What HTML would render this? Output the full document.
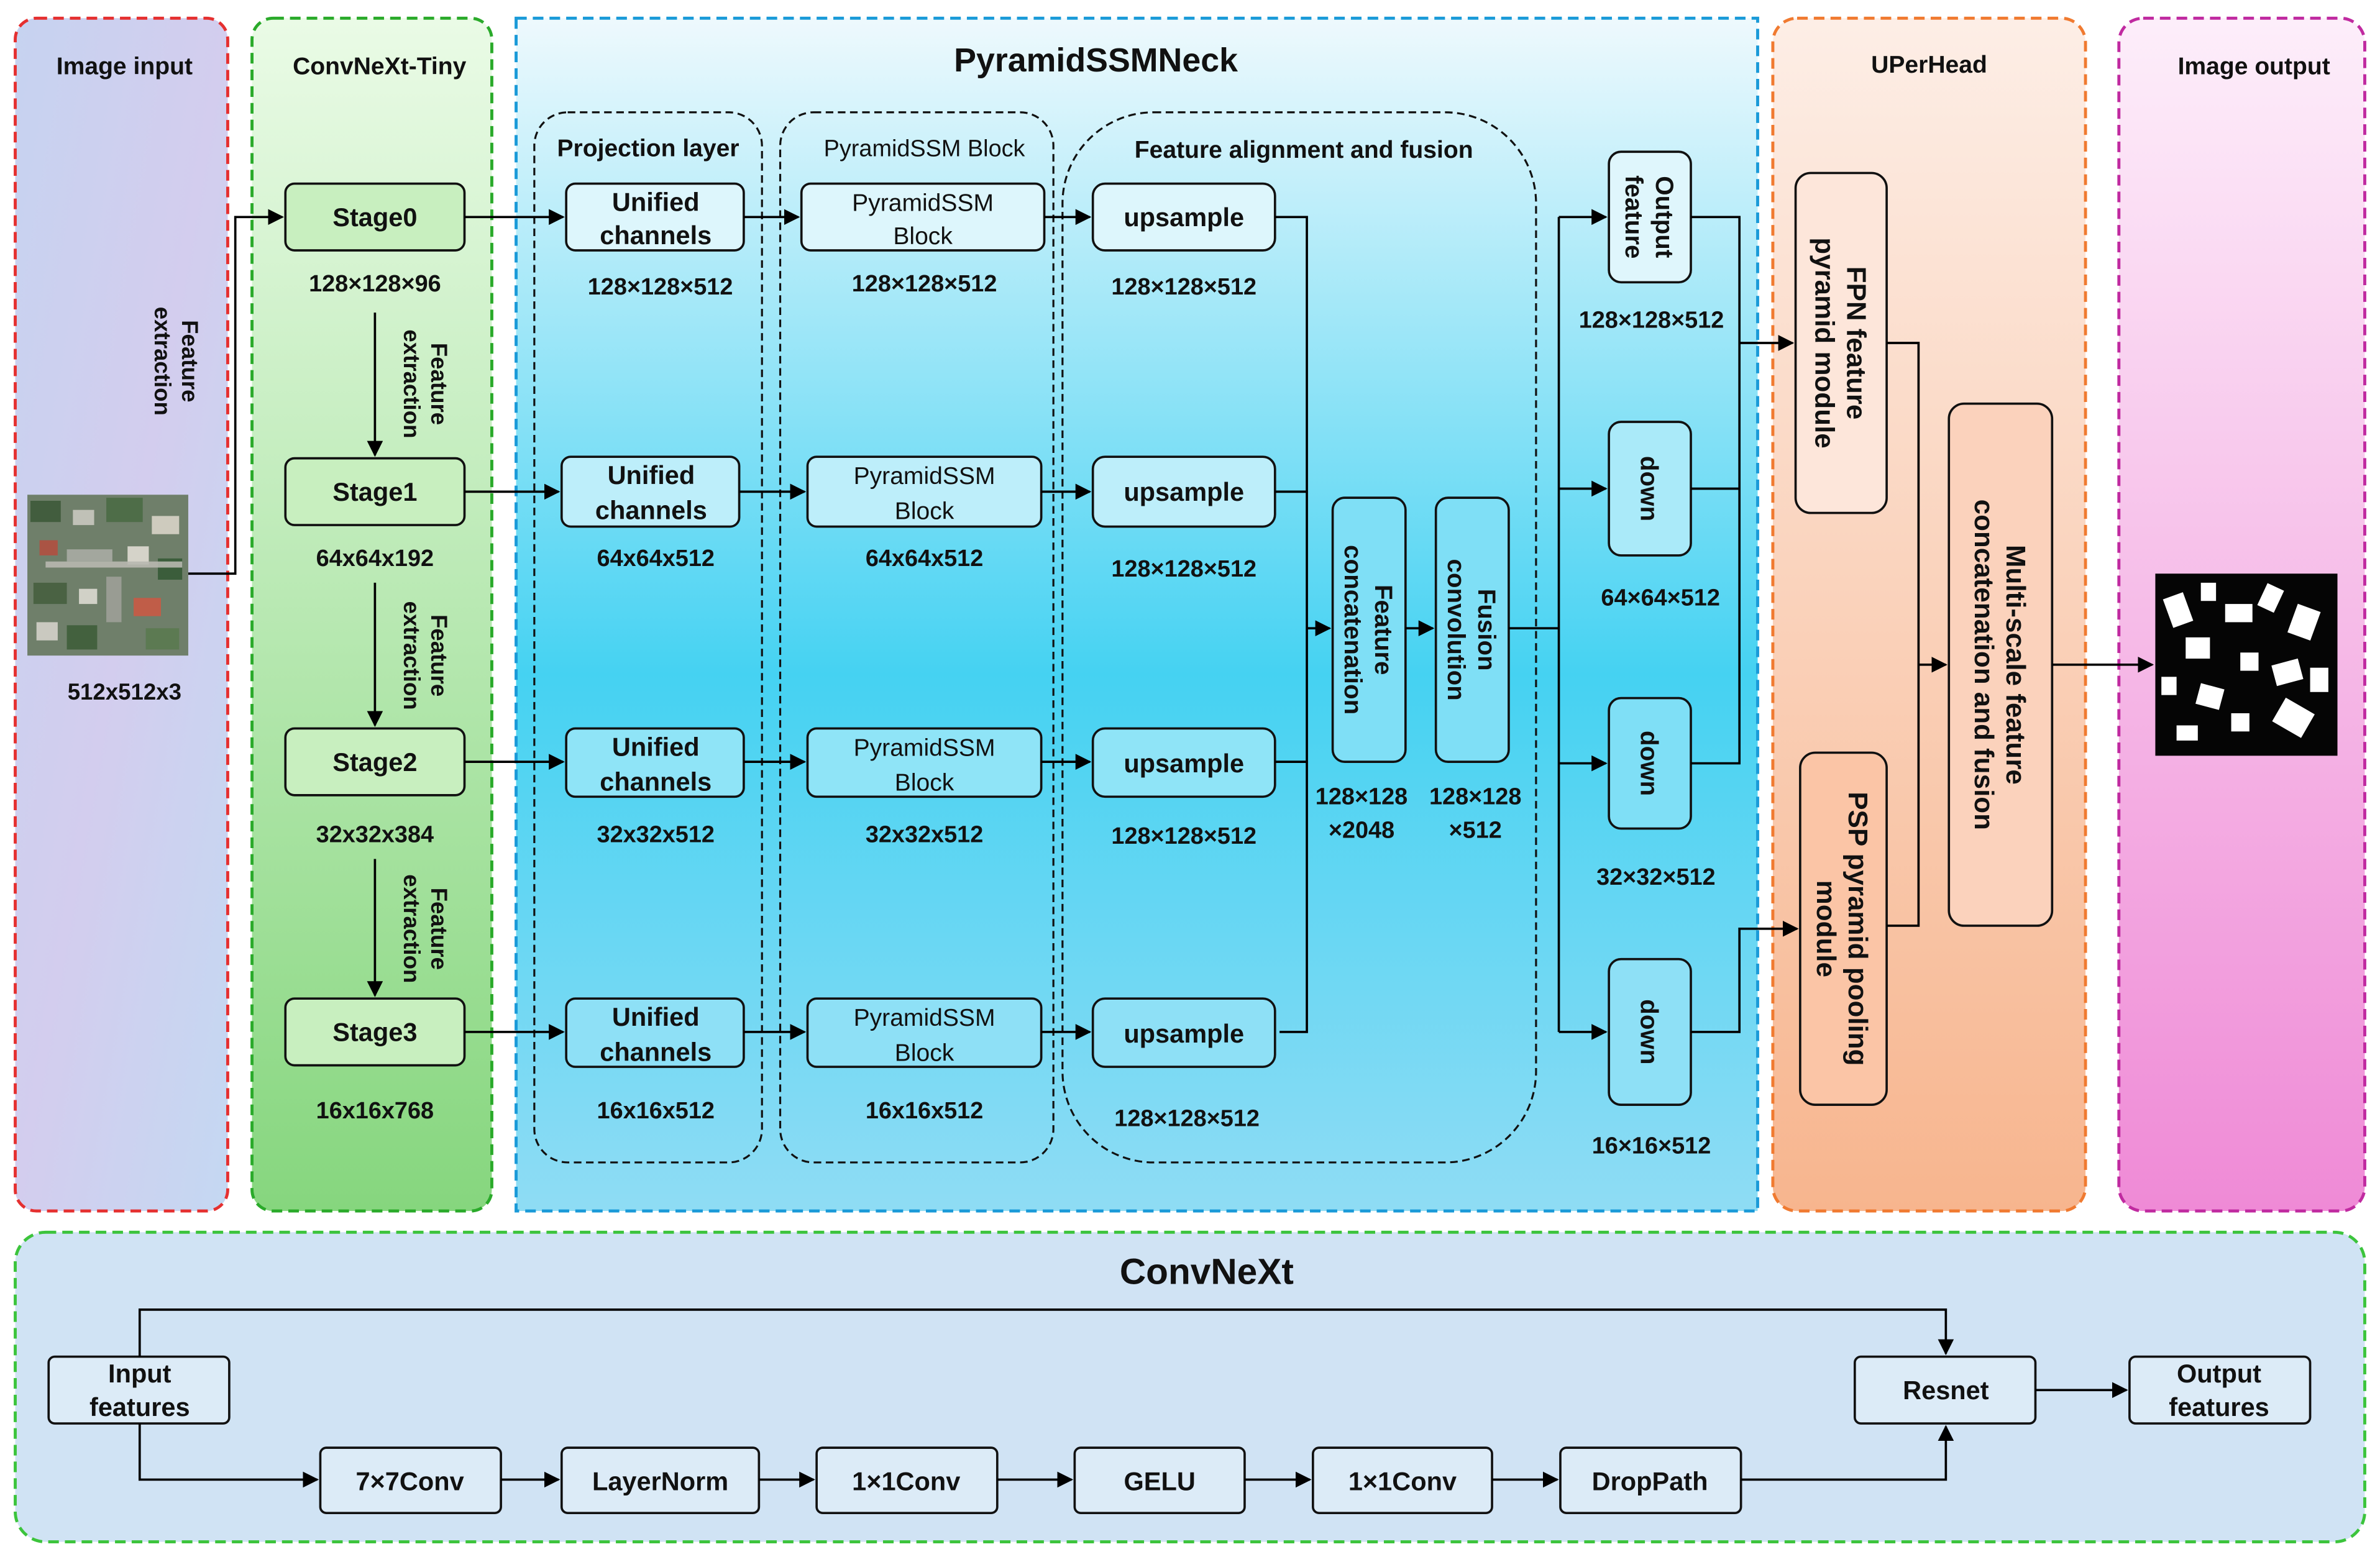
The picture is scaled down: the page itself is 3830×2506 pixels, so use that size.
<!DOCTYPE html>
<html><head><meta charset="utf-8"><style>
html,body{margin:0;padding:0;background:#fff}
svg{display:block}
text{font-family:"Liberation Sans",Arial,sans-serif;font-weight:bold;fill:#111}
</style></head><body>
<svg width="3830" height="2506" viewBox="0 0 1568 1026" xmlns="http://www.w3.org/2000/svg">
<defs>
<marker id="a" viewBox="0 0 10 10" refX="9" refY="5" markerWidth="7" markerHeight="7" orient="auto-start-reverse"><path d="M0,0 L10,5 L0,10 z" fill="#000"/></marker>
<linearGradient id="gG" x1="0" y1="0" x2="0" y2="1"><stop offset="0" stop-color="#eafbe6"/><stop offset="1" stop-color="#86d67e"/></linearGradient>
<linearGradient id="gB" x1="0" y1="0" x2="0" y2="1"><stop offset="0" stop-color="#eef9fd"/><stop offset="0.55" stop-color="#45d2f2"/><stop offset="1" stop-color="#8fdcf4"/></linearGradient>
<linearGradient id="gO" x1="0" y1="0" x2="0" y2="1"><stop offset="0" stop-color="#fdeee6"/><stop offset="1" stop-color="#f7b58e"/></linearGradient>
<linearGradient id="gP" x1="0" y1="0" x2="0" y2="1"><stop offset="0" stop-color="#fdeefa"/><stop offset="1" stop-color="#ef8ad6"/></linearGradient>
<linearGradient id="gI" x1="0" y1="0" x2="1" y2="1"><stop offset="0" stop-color="#c6d3f0"/><stop offset="0.5" stop-color="#d3cdee"/><stop offset="1" stop-color="#c4d8f2"/></linearGradient>
</defs>

<!-- panels -->
<rect x="10" y="12" width="140" height="786" rx="14" fill="url(#gI)" stroke="#e53030" stroke-width="2" stroke-dasharray="7,4"/>
<rect x="166" y="12" width="158" height="786" rx="14" fill="url(#gG)" stroke="#2aaa2a" stroke-width="2" stroke-dasharray="7,4"/>
<rect x="340" y="12" width="818" height="786" fill="url(#gB)" stroke="#1a9ad8" stroke-width="2" stroke-dasharray="7,4"/>
<rect x="1168" y="12" width="206" height="786" rx="16" fill="url(#gO)" stroke="#f07a30" stroke-width="2" stroke-dasharray="7,4"/>
<rect x="1396" y="12" width="162" height="786" rx="16" fill="url(#gP)" stroke="#c02aa0" stroke-width="2" stroke-dasharray="7,4"/>
<rect x="10" y="812" width="1548" height="204" rx="20" fill="#d0e3f4" stroke="#3cc43c" stroke-width="2" stroke-dasharray="7,4"/>

<text x="82" y="49" font-size="16" text-anchor="middle">Image input</text>
<text x="250" y="49" font-size="16" text-anchor="middle">ConvNeXt-Tiny</text>
<text x="722" y="47" font-size="22" text-anchor="middle">PyramidSSMNeck</text>
<text x="1271" y="48" font-size="16" text-anchor="middle">UPerHead</text>
<text x="1485" y="49" font-size="16" text-anchor="middle">Image output</text>
<text x="795" y="846" font-size="24" text-anchor="middle">ConvNeXt</text>

<!-- dashed groups -->
<g fill="none" stroke="#111" stroke-width="1.3" stroke-dasharray="5,3">
<rect x="352" y="74" width="150" height="692" rx="22"/>
<rect x="514" y="74" width="180" height="692" rx="22"/>
<rect x="700" y="74" width="312" height="692" rx="60"/>
</g>
<text x="427" y="103" font-size="16" text-anchor="middle">Projection layer</text>
<text x="609" y="103" font-size="15.5" text-anchor="middle" font-weight="normal" style="font-weight:normal">PyramidSSM Block</text>
<text x="859" y="104" font-size="16" text-anchor="middle">Feature alignment and fusion</text>

<!-- input image -->
<rect x="18" y="326" width="106" height="106" fill="#6f7f6a"/>
<g fill-opacity="0.9">
<rect x="20" y="330" width="20" height="14" fill="#3d5a3a"/><rect x="48" y="336" width="14" height="10" fill="#c9c9c0"/>
<rect x="70" y="328" width="24" height="16" fill="#4a6b45"/><rect x="100" y="340" width="18" height="12" fill="#d8d4c8"/>
<rect x="26" y="356" width="12" height="10" fill="#b05040"/><rect x="44" y="362" width="30" height="8" fill="#a9aca4"/>
<rect x="84" y="360" width="14" height="12" fill="#e0ddd4"/><rect x="104" y="368" width="16" height="14" fill="#355a36"/>
<rect x="22" y="384" width="22" height="14" fill="#465f3f"/><rect x="52" y="388" width="12" height="10" fill="#dcdad2"/>
<rect x="70" y="380" width="10" height="30" fill="#9da098"/><rect x="88" y="394" width="18" height="12" fill="#c95a45"/>
<rect x="24" y="410" width="14" height="12" fill="#d4d2ca"/><rect x="44" y="412" width="20" height="16" fill="#3e5e3a"/>
<rect x="96" y="414" width="22" height="14" fill="#5a7a50"/><rect x="30" y="370" width="90" height="4" fill="#b8b8b0"/>
</g>
<text x="82" y="461" font-size="15" text-anchor="middle">512x512x3</text>
<text transform="translate(120,238) rotate(90)" font-size="15" text-anchor="middle"><tspan x="0" y="0">Feature</tspan><tspan x="0" y="18">extraction</tspan></text>
<polyline points="124,378 155,378 155,143 186,143" fill="none" stroke="#000" stroke-width="1.5" marker-end="url(#a)"/>

<!-- output image -->
<rect x="1420" y="378" width="120" height="120" fill="#050505"/>
<g fill="#fff">
<rect x="1428" y="392" width="14" height="20" transform="rotate(-20 1435 402)"/><rect x="1450" y="384" width="10" height="12"/>
<rect x="1466" y="398" width="18" height="12"/><rect x="1490" y="386" width="12" height="16" transform="rotate(25 1496 394)"/>
<rect x="1510" y="400" width="16" height="20" transform="rotate(20 1518 410)"/><rect x="1440" y="420" width="16" height="14"/>
<rect x="1476" y="430" width="12" height="12"/><rect x="1498" y="436" width="18" height="14" transform="rotate(-15 1507 443)"/>
<rect x="1424" y="446" width="10" height="12"/><rect x="1448" y="452" width="16" height="14" transform="rotate(15 1456 459)"/>
<rect x="1470" y="470" width="12" height="12"/><rect x="1500" y="464" width="22" height="18" transform="rotate(30 1511 473)"/>
<rect x="1522" y="440" width="12" height="16"/><rect x="1434" y="478" width="14" height="10"/>
</g>

<!-- stages -->
<g fill="#c8efbf" stroke="#111" stroke-width="1.5">
<rect x="188" y="121" width="118" height="44" rx="6"/><rect x="188" y="302" width="118" height="44" rx="6"/>
<rect x="188" y="480" width="118" height="44" rx="6"/><rect x="188" y="658" width="118" height="44" rx="6"/>
</g>
<g font-size="17" text-anchor="middle">
<text x="247" y="149">Stage0</text><text x="247" y="330">Stage1</text><text x="247" y="508">Stage2</text><text x="247" y="686">Stage3</text>
</g>
<g font-size="15.5" text-anchor="middle">
<text x="247" y="192">128×128×96</text><text x="247" y="373">64x64x192</text><text x="247" y="555">32x32x384</text><text x="247" y="737">16x16x768</text>
</g>
<g stroke="#000" stroke-width="1.5" marker-end="url(#a)">
<line x1="247" y1="206" x2="247" y2="300"/><line x1="247" y1="384" x2="247" y2="478"/><line x1="247" y1="566" x2="247" y2="656"/>
</g>
<g font-size="15" text-anchor="middle">
<text transform="translate(284,253) rotate(90)"><tspan x="0" y="0">Feature</tspan><tspan x="0" y="18">extraction</tspan></text>
<text transform="translate(284,432) rotate(90)"><tspan x="0" y="0">Feature</tspan><tspan x="0" y="18">extraction</tspan></text>
<text transform="translate(284,612) rotate(90)"><tspan x="0" y="0">Feature</tspan><tspan x="0" y="18">extraction</tspan></text>
</g>

<!-- neck boxes -->
<g stroke="#111" stroke-width="1.5">
<rect x="373" y="121" width="117" height="44" rx="6" fill="#ddf6fc"/>
<rect x="370" y="301" width="117" height="46" rx="6" fill="#bdeefa"/>
<rect x="373" y="480" width="117" height="45" rx="6" fill="#8fe4f7"/>
<rect x="373" y="658" width="117" height="45" rx="6" fill="#8ee0f6"/>
<rect x="528" y="121" width="160" height="44" rx="6" fill="#ddf6fc"/>
<rect x="532" y="301" width="154" height="46" rx="6" fill="#bdeefa"/>
<rect x="532" y="480" width="154" height="45" rx="6" fill="#8fe4f7"/>
<rect x="532" y="658" width="154" height="45" rx="6" fill="#8ee0f6"/>
<rect x="720" y="121" width="120" height="44" rx="8" fill="#ddf6fc"/>
<rect x="720" y="301" width="120" height="46" rx="8" fill="#bdeefa"/>
<rect x="720" y="480" width="120" height="45" rx="8" fill="#8fe4f7"/>
<rect x="720" y="658" width="120" height="45" rx="8" fill="#8ee0f6"/>
<rect x="878" y="328" width="48" height="174" rx="8" fill="#7fdff6"/>
<rect x="946" y="328" width="48" height="174" rx="8" fill="#7fdff6"/>
<rect x="1060" y="100" width="54" height="86" rx="8" fill="#dff6fc"/>
<rect x="1060" y="278" width="54" height="88" rx="8" fill="#aaeaf9"/>
<rect x="1060" y="460" width="54" height="86" rx="8" fill="#7fdff6"/>
<rect x="1060" y="632" width="54" height="96" rx="8" fill="#8ee0f6"/>
<rect x="1183" y="114" width="60" height="224" rx="10" fill="#fde6da"/>
<rect x="1186" y="496" width="57" height="232" rx="10" fill="#fbc5a6"/>
<rect x="1284" y="266" width="68" height="344" rx="10" fill="#fbd2bc"/>
</g>
<g font-size="17" text-anchor="middle">
<text x="432" y="139">Unified</text><text x="432" y="161">channels</text>
<text x="429" y="319">Unified</text><text x="429" y="342">channels</text>
<text x="432" y="498">Unified</text><text x="432" y="521">channels</text>
<text x="432" y="676">Unified</text><text x="432" y="699">channels</text>
<text x="780" y="149">upsample</text><text x="780" y="330">upsample</text><text x="780" y="509">upsample</text><text x="780" y="687">upsample</text>
</g>
<g font-size="16" text-anchor="middle" style="font-weight:normal">
<text x="608" y="139" style="font-weight:normal">PyramidSSM</text><text x="608" y="161" style="font-weight:normal">Block</text>
<text x="609" y="319" style="font-weight:normal">PyramidSSM</text><text x="609" y="342" style="font-weight:normal">Block</text>
<text x="609" y="498" style="font-weight:normal">PyramidSSM</text><text x="609" y="521" style="font-weight:normal">Block</text>
<text x="609" y="676" style="font-weight:normal">PyramidSSM</text><text x="609" y="699" style="font-weight:normal">Block</text>
</g>
<g font-size="15.5" text-anchor="middle">
<text x="435" y="194">128×128×512</text><text x="432" y="373">64x64x512</text><text x="432" y="555">32x32x512</text><text x="432" y="737">16x16x512</text>
<text x="609" y="192">128×128×512</text><text x="609" y="373">64x64x512</text><text x="609" y="555">32x32x512</text><text x="609" y="737">16x16x512</text>
<text x="780" y="194">128×128×512</text><text x="780" y="380">128×128×512</text><text x="780" y="556">128×128×512</text><text x="782" y="742">128×128×512</text>
<text x="897" y="530">128×128</text><text x="897" y="552">×2048</text>
<text x="972" y="530">128×128</text><text x="972" y="552">×512</text>
<text x="1088" y="216">128×128×512</text><text x="1094" y="399">64×64×512</text><text x="1091" y="583">32×32×512</text><text x="1088" y="760">16×16×512</text>
</g>
<g font-size="16.5" text-anchor="middle">
<text transform="translate(902,415) rotate(90)"><tspan x="0" y="-4">Feature</tspan><tspan x="0" y="16">concatenation</tspan></text>
<text transform="translate(970,415) rotate(90)"><tspan x="0" y="-4">Fusion</tspan><tspan x="0" y="16">convolution</tspan></text>
<text transform="translate(1087,143) rotate(90)"><tspan x="0" y="-4">Output</tspan><tspan x="0" y="16">feature</tspan></text>
<text transform="translate(1087,322) rotate(90)" y="6">down</text>
<text transform="translate(1087,503) rotate(90)" y="6">down</text>
<text transform="translate(1087,680) rotate(90)" y="6">down</text>
<text transform="translate(1213,226) rotate(90)" font-size="18"><tspan x="0" y="-4">FPN feature</tspan><tspan x="0" y="17">pyramid module</tspan></text>
<text transform="translate(1214,612) rotate(90)" font-size="18"><tspan x="0" y="-4">PSP pyramid pooling</tspan><tspan x="0" y="17">module</tspan></text>
<text transform="translate(1318,438) rotate(90)" font-size="18"><tspan x="0" y="-4">Multi-scale feature</tspan><tspan x="0" y="17">concatenation and fusion</tspan></text>
</g>

<!-- neck connectors -->
<g stroke="#000" stroke-width="1.5" fill="none" marker-end="url(#a)">
<line x1="306" y1="143" x2="371" y2="143"/><line x1="306" y1="324" x2="368" y2="324"/>
<line x1="306" y1="502" x2="371" y2="502"/><line x1="306" y1="680" x2="371" y2="680"/>
<line x1="490" y1="143" x2="526" y2="143"/><line x1="487" y1="324" x2="530" y2="324"/>
<line x1="490" y1="502" x2="530" y2="502"/><line x1="490" y1="680" x2="530" y2="680"/>
<line x1="688" y1="143" x2="718" y2="143"/><line x1="686" y1="324" x2="718" y2="324"/>
<line x1="686" y1="502" x2="718" y2="502"/><line x1="686" y1="680" x2="718" y2="680"/>
<line x1="861" y1="414" x2="876" y2="414"/><line x1="926" y1="414" x2="944" y2="414"/>
<line x1="1027" y1="143" x2="1058" y2="143"/><line x1="1027" y1="322" x2="1058" y2="322"/>
<line x1="1027" y1="503" x2="1058" y2="503"/><line x1="1027" y1="680" x2="1058" y2="680"/>
<polyline points="1146,226 1181,226"/><polyline points="1114,680 1146,680 1146,612 1184,612"/>
<line x1="1264" y1="438" x2="1282" y2="438"/><line x1="1352" y1="438" x2="1418" y2="438"/>
</g>
<g stroke="#000" stroke-width="1.5" fill="none">
<polyline points="840,143 861,143 861,680 843,680"/><line x1="840" y1="324" x2="861" y2="324"/><line x1="840" y1="502" x2="861" y2="502"/>
<polyline points="994,414 1027,414"/><line x1="1027" y1="143" x2="1027" y2="680"/>
<polyline points="1114,143 1146,143 1146,503 1114,503"/><line x1="1114" y1="322" x2="1146" y2="322"/>
<polyline points="1243,226 1264,226 1264,610 1243,610"/>
</g>

<!-- bottom ConvNeXt -->
<g fill="#dcebf7" stroke="#111" stroke-width="1.5">
<rect x="32" y="894" width="119" height="44" rx="4"/><rect x="1222" y="894" width="119" height="44" rx="4"/>
<rect x="1403" y="894" width="119" height="44" rx="4"/>
<rect x="211" y="954" width="119" height="43" rx="4"/><rect x="370" y="954" width="130" height="43" rx="4"/>
<rect x="538" y="954" width="119" height="43" rx="4"/><rect x="708" y="954" width="112" height="43" rx="4"/>
<rect x="865" y="954" width="118" height="43" rx="4"/><rect x="1028" y="954" width="119" height="43" rx="4"/>
</g>
<g font-size="17" text-anchor="middle">
<text x="92" y="911">Input</text><text x="92" y="933">features</text>
<text x="1282" y="922">Resnet</text>
<text x="1462" y="911">Output</text><text x="1462" y="933">features</text>
<text x="270" y="982">7×7Conv</text><text x="435" y="982">LayerNorm</text><text x="597" y="982">1×1Conv</text>
<text x="764" y="982">GELU</text><text x="924" y="982">1×1Conv</text><text x="1087" y="982">DropPath</text>
</g>
<g stroke="#000" stroke-width="1.5" fill="none" marker-end="url(#a)">
<polyline points="92,894 92,863 1282,863 1282,892"/>
<polyline points="92,938 92,975 209,975"/>
<line x1="330" y1="975" x2="368" y2="975"/><line x1="500" y1="975" x2="536" y2="975"/>
<line x1="657" y1="975" x2="706" y2="975"/><line x1="820" y1="975" x2="863" y2="975"/>
<line x1="983" y1="975" x2="1026" y2="975"/>
<polyline points="1147,975 1282,975 1282,940"/>
<line x1="1341" y1="916" x2="1401" y2="916"/>
</g>
</svg>
</body></html>
